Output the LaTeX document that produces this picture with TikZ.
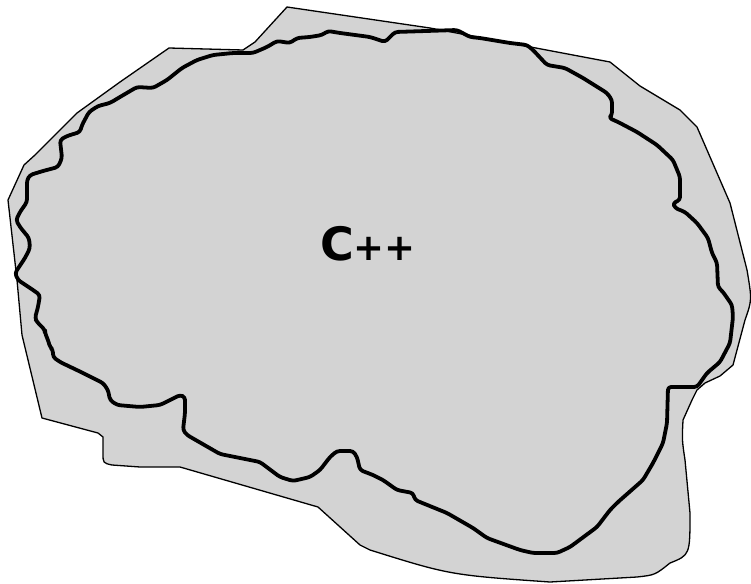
\documentclass[tikz,border=0pt]{standalone}
\usepackage{fontspec}
\setmainfont{DejaVu Sans}
\begin{document}
\begin{tikzpicture}[x=1pt,y=-1pt,
  outer/.style={draw=black,fill={rgb,255:red,211;green,211;blue,211},line width=1.3pt,line join=round},
  inner/.style={draw=black,line width=3.8pt,line join=round,line cap=round,rounded corners=3pt},
  lbl/.style={font=\bfseries\fontsize{46}{52}\selectfont,inner sep=0pt}]
\useasboundingbox (0,0) rectangle (751,583);
\draw[outer] (8,200) -- (24,165) -- (35,155) -- (77,113) -- (120,82) -- (169,48) -- (243,50) -- (255,42) -- (287,7)
  -- (430,28) -- (610,62) -- (640,86) -- (680,110) -- (697,127) -- (730,203) -- (747,270)
  .. controls (752,300) .. (745,320) -- (733,365) -- (720,376) -- (705,383) -- (697,390) -- (692,400) -- (683,420)
  .. controls (682,440) .. (685,460) -- (690,513) .. controls (690,555) .. (670,563)
  .. controls (655,575) .. (637,577) -- (550,582) .. controls (450,575) .. (370,550) -- (360,545) -- (318,507)
  -- (180,467) -- (140,467) -- (112,465) .. controls (103,463) .. (103,453) -- (103,437) -- (98,433)
  -- (42,418) -- (22,335) -- (17,280) -- cycle;
\draw[inner] (15,273) -- (25,258) -- (30,248) -- (29,238) -- (20,227) -- (16,220) -- (20,212) -- (27,202)
  -- (27,192) -- (27,180) -- (30,175) -- (43,171) -- (58,167) -- (62,158) -- (60,140) -- (67,136) -- (80,132)
  -- (82,125) -- (89,112) -- (98,106) -- (110,103) -- (120,97) -- (137,87) -- (153,88) -- (167,80) -- (182,68)
  -- (197,60) -- (213,55) -- (233,53) -- (253,53) -- (267,47) -- (277,41) -- (290,43) -- (297,38) -- (310,37)
  -- (322,35) -- (328,31) -- (340,33) -- (370,37) -- (385,42) -- (395,32) -- (457,30) -- (470,37) -- (480,38)
  -- (510,43) -- (527,45) -- (533,50) -- (547,65) -- (565,68) -- (583,78) -- (607,93) -- (612,100) -- (612,115)
  -- (609,118) -- (618,122) -- (637,132) -- (657,145) -- (673,160) -- (680,177) -- (680,200) -- (673,203)
  -- (675,208) -- (685,212) -- (697,223) -- (708,238) -- (712,253) -- (717,263) -- (718,287) -- (723,292)
  -- (732,305) -- (733,317) -- (730,343) -- (720,362) -- (707,373) -- (697,387) -- (668,387) -- (667,423)
  -- (663,443) -- (653,463) -- (643,480) -- (618,502) -- (610,510) -- (597,527) -- (570,547) -- (557,553)
  -- (533,553) -- (520,550) -- (487,538) -- (473,528) -- (447,513) -- (415,500) -- (413,493) -- (397,490)
  -- (383,480) -- (373,475) -- (360,470) -- (357,457) -- (353,451) -- (337,451) -- (330,457) -- (320,470)
  -- (310,477) -- (293,481) -- (280,477) -- (260,462) -- (240,458) -- (220,454) -- (187,435) -- (183,430)
  -- (185,413) -- (185,397) -- (180,395) -- (170,400) -- (160,405) -- (140,407) -- (117,405) -- (110,400)
  -- (108,390) -- (103,383) -- (83,373) -- (60,362) -- (53,357) -- (53,350) -- (50,347) -- (48,340) -- (45,333)
  -- (45,330) -- (37,322) -- (35,318) -- (38,307) -- (40,295) -- (33,290) -- (18,280) -- cycle;
\node[lbl] (label) at (368,244) {C{\fontsize{37}{42}\selectfont ++}};
\end{tikzpicture}
\end{document}
